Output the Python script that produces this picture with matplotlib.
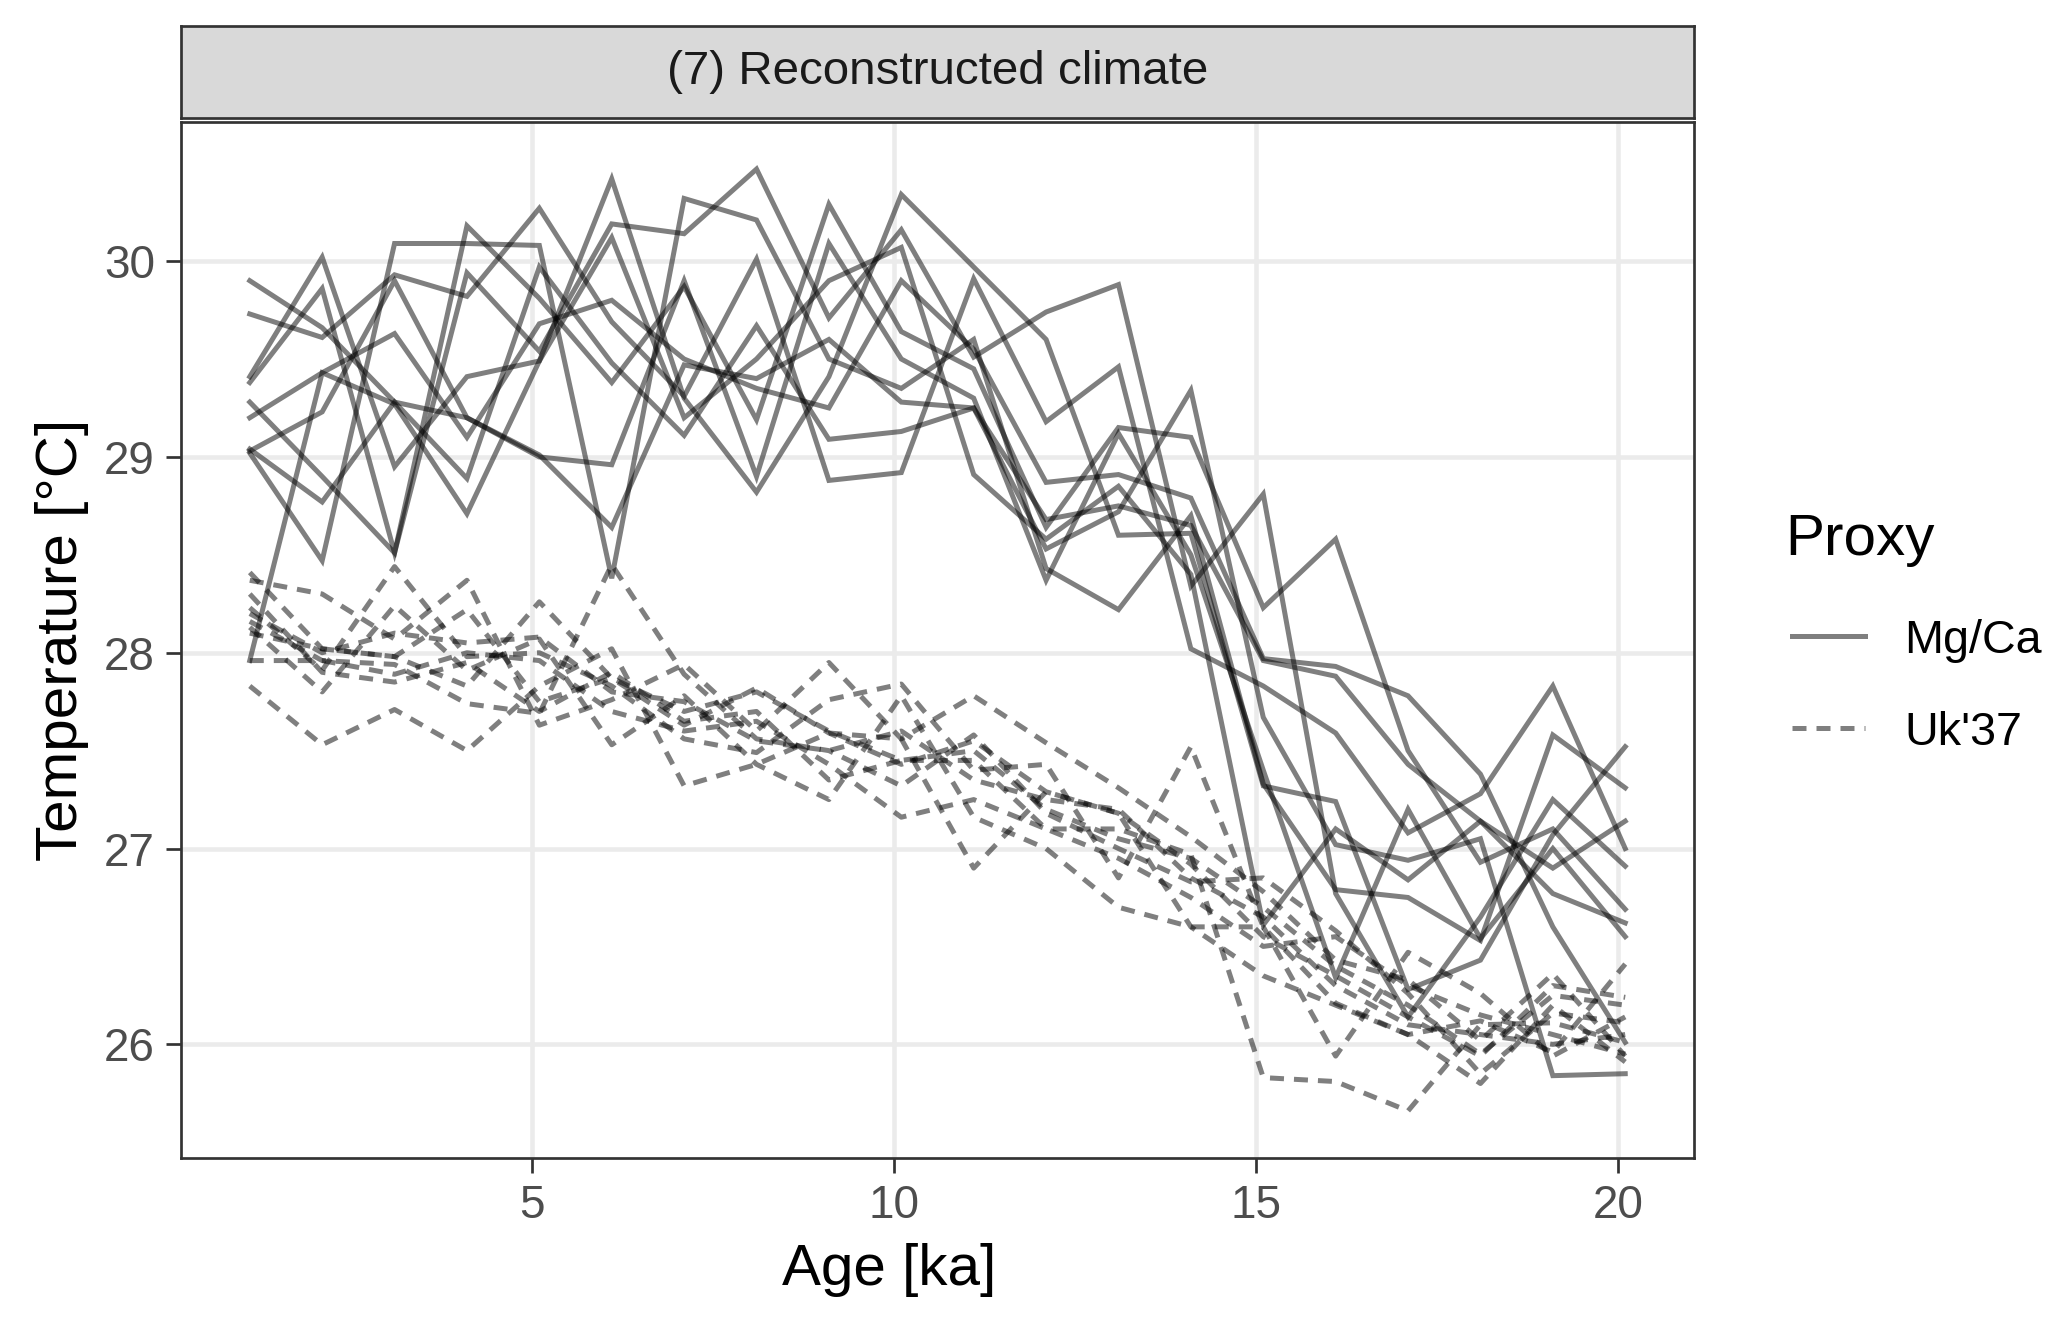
import matplotlib
matplotlib.use("Agg")
import matplotlib.pyplot as plt
from matplotlib.lines import Line2D
import numpy as np

plt.rcParams['font.family'] = ['Liberation Sans', 'DejaVu Sans']

ages = [1.1, 2.1, 3.1, 4.1, 5.1, 6.1, 7.1, 8.1, 9.1, 10.1,
        11.1, 12.1, 13.1, 14.1, 15.1, 16.1, 17.1, 18.1, 19.1, 20.1]

mgca = [
    [29.90, 29.66, 29.28, 29.20, 29.01, 28.64, 29.47, 29.40, 29.60, 29.28, 29.25, 28.68, 28.75, 28.65, 27.96, 27.88, 27.43, 27.14, 26.77, 26.62],
    [29.73, 29.61, 29.93, 29.82, 30.27, 29.69, 29.31, 30.01, 28.88, 28.92, 29.91, 29.18, 29.46, 28.02, 27.83, 27.59, 27.08, 27.28, 27.83, 27.00],
    [29.41, 30.02, 28.95, 29.41, 29.49, 30.42, 29.30, 28.82, 29.41, 30.34, 29.97, 29.60, 28.60, 28.61, 27.32, 27.24, 26.28, 26.43, 27.07, 27.52],
    [29.38, 29.86, 28.51, 29.94, 29.54, 30.19, 30.14, 30.47, 29.71, 30.16, 29.51, 29.74, 29.88, 28.34, 28.81, 26.77, 26.14, 26.65, 27.25, 26.91],
    [29.28, 28.90, 28.51, 30.18, 29.81, 29.38, 29.87, 29.19, 30.29, 29.64, 29.45, 28.64, 29.15, 29.10, 28.23, 28.58, 27.50, 26.93, 27.10, 26.69],
    [29.20, 29.43, 29.63, 29.10, 29.68, 29.80, 29.50, 29.35, 29.25, 29.90, 29.55, 28.87, 28.91, 28.79, 27.97, 27.93, 27.78, 27.38, 26.60, 26.01],
    [29.04, 28.77, 29.28, 28.89, 29.97, 29.48, 29.11, 29.67, 29.09, 29.13, 29.25, 28.53, 28.72, 29.34, 27.67, 27.02, 26.94, 27.05, 25.84, 25.85],
    [29.02, 28.47, 30.09, 30.09, 30.08, 28.38, 30.32, 30.21, 29.50, 29.35, 29.60, 28.43, 28.22, 28.70, 27.33, 26.79, 26.75, 26.53, 27.58, 27.31],
    [27.96, 29.43, 29.27, 28.71, 29.49, 30.12, 29.20, 29.50, 29.90, 30.07, 28.91, 28.58, 28.85, 28.40, 26.61, 27.10, 26.84, 27.14, 26.90, 27.14],
    [29.03, 29.23, 29.90, 29.20, 29.00, 28.96, 29.90, 28.90, 30.09, 29.50, 29.30, 28.37, 29.12, 28.50, 27.40, 26.34, 27.20, 26.54, 27.00, 26.55],
]

uk37 = [
    [28.41, 28.02, 27.98, 27.83, 28.26, 27.87, 27.63, 27.82, 27.59, 27.43, 27.55, 27.29, 27.18, 26.92, 26.55, 26.35, 26.14, 25.94, 26.30, 26.24],
    [28.37, 28.30, 28.07, 28.37, 27.63, 27.76, 27.94, 27.60, 27.95, 27.56, 27.78, 27.54, 27.31, 27.06, 26.78, 26.43, 26.33, 26.02, 26.36, 25.94],
    [28.23, 27.91, 28.44, 27.98, 28.00, 27.83, 27.56, 27.49, 27.76, 27.84, 27.40, 27.43, 26.85, 27.52, 26.60, 26.21, 26.05, 26.12, 25.96, 26.41],
    [28.16, 27.96, 27.94, 27.74, 27.69, 28.45, 27.89, 27.56, 27.50, 27.32, 27.58, 27.18, 27.00, 26.83, 26.85, 26.58, 26.26, 25.85, 26.16, 26.11],
    [28.13, 27.80, 28.24, 27.91, 28.07, 27.53, 27.78, 27.43, 27.25, 27.78, 27.16, 27.00, 26.70, 26.60, 26.60, 25.94, 26.47, 26.26, 25.94, 26.14],
    [27.96, 27.96, 27.89, 28.00, 27.96, 27.70, 27.60, 27.65, 27.43, 27.16, 27.25, 27.10, 27.10, 26.97, 25.83, 25.81, 25.66, 26.10, 26.11, 26.01],
    [27.83, 27.53, 27.71, 27.50, 27.83, 28.02, 27.32, 27.43, 27.59, 27.56, 26.90, 27.29, 27.18, 26.60, 26.35, 26.20, 26.05, 25.80, 26.20, 25.91],
    [28.10, 28.02, 27.98, 28.22, 27.75, 27.87, 27.70, 27.80, 27.60, 27.45, 27.50, 27.20, 27.05, 26.95, 26.70, 26.40, 26.20, 25.95, 26.25, 26.20],
    [28.20, 28.00, 28.10, 28.05, 28.08, 27.80, 27.75, 27.55, 27.50, 27.60, 27.35, 27.25, 27.20, 26.85, 26.65, 26.30, 26.10, 26.05, 26.00, 26.05],
    [28.30, 27.90, 27.85, 27.95, 27.70, 27.90, 27.65, 27.70, 27.35, 27.45, 27.45, 27.10, 26.95, 26.75, 26.50, 26.55, 26.30, 26.15, 26.05, 25.95],
]

proxy_labels = ["Mg/Ca", "Uk'37"]
legend_title = "Proxy"
strip_title = "(7) Reconstructed climate"
x_ticks = [5, 10, 15, 20]
y_ticks = [26, 27, 28, 29, 30]

W, H = 2067, 1329
dpi = 300
fig = plt.figure(figsize=(W / dpi, H / dpi), dpi=dpi)

def fx(px):
    return px / W

def fy(py):
    return 1 - py / H

L, R, T, B = 181, 1694, 122, 1158
ax = fig.add_axes([fx(L), fy(B), (R - L) / W, (B - T) / H])
sax = fig.add_axes([fx(L), fy(117.5), (R - L) / W, (117.5 - 26) / H])

lw = 1.2
dash = (0, (2.8, 2.0))
for s in mgca:
    ax.plot(ages, s, color='black', alpha=0.5, lw=lw, solid_joinstyle='miter')
for s in uk37:
    ax.plot(ages, s, color='black', alpha=0.5, lw=lw, linestyle=dash)

allv = np.concatenate([np.ravel(mgca), np.ravel(uk37)])
xr = max(ages) - min(ages)
ax.set_xlim(min(ages) - 0.05 * xr, max(ages) + 0.05 * xr)
yr = allv.max() - allv.min()
ax.set_ylim(allv.min() - 0.05 * yr, allv.max() + 0.05 * yr)

ax.set_xticks(x_ticks)
ax.set_yticks(y_ticks)
ax.grid(True, color='#EBEBEB', lw=1.1)
ax.set_axisbelow(True)
for sp in ax.spines.values():
    sp.set_color('#333333')
    sp.set_linewidth(0.65)
ax.tick_params(axis='both', colors='#333333', length=3.5, width=0.65,
               labelsize=11, labelcolor='#4D4D4D', pad=2.8)
ax.set_xlabel("Age [ka]", fontsize=14, labelpad=3.5)
ax.xaxis.label.set_x((889 - L) / (R - L))
ax.set_ylabel("Temperature [°C]", fontsize=14, labelpad=3.5)

sax.set_facecolor('#D9D9D9')
sax.set_xticks([])
sax.set_yticks([])
for sp in sax.spines.values():
    sp.set_color('#333333')
    sp.set_linewidth(0.65)
sax.text(0.5, 0.5, strip_title, ha='center', va='center', fontsize=11.4,
         color='#1A1A1A', transform=sax.transAxes)

# legend, drawn in figure coordinates
fig.text(fx(1785), fy(555), legend_title, fontsize=14, ha='left',
         va='baseline', color='black')
key_y = [636, 728]
lab_base = [653, 745]
styles = ['-', dash]
for lab, ky, lb, st in zip(proxy_labels, key_y, lab_base, styles):
    fig.add_artist(Line2D([fx(1792), fx(1865)], [fy(ky), fy(ky)],
                          transform=fig.transFigure, color='black',
                          alpha=0.5, lw=lw, linestyle=st))
    fig.text(fx(1904), fy(lb), lab, fontsize=11.2, ha='left',
             va='baseline', color='black')

fig.savefig("out.png", dpi=dpi)
